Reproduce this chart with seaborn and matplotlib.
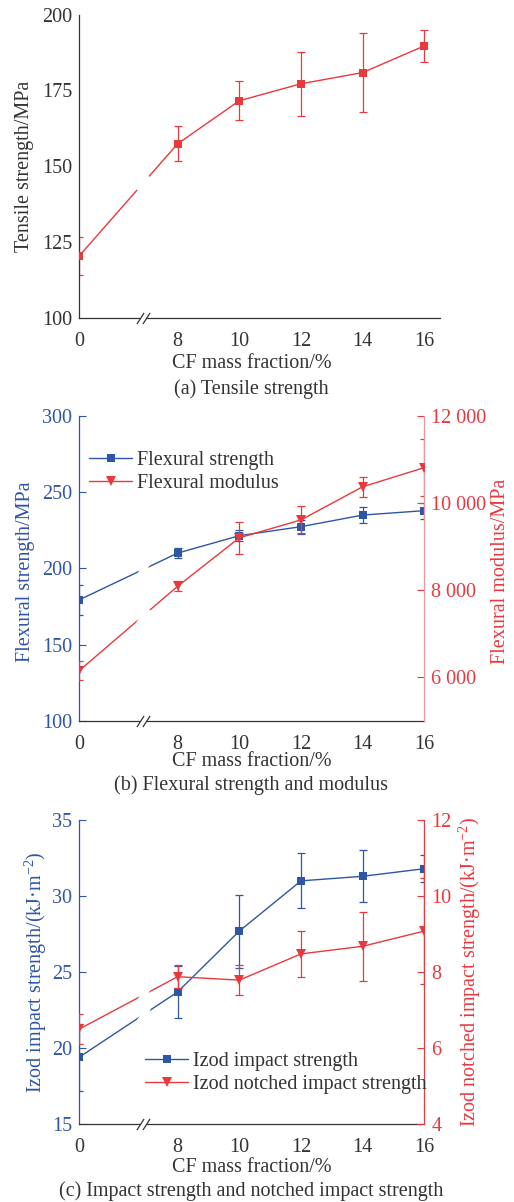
import numpy as np
import matplotlib
matplotlib.use("Agg")
import matplotlib.pyplot as plt
import seaborn as sns
from matplotlib.path import Path
from matplotlib.lines import Line2D
from matplotlib.ticker import FuncFormatter
from matplotlib.transforms import blended_transform_factory

# ---------------- data ----------------
cf = [0, 8, 10, 12, 14, 16]
cf_ticklabels = ["0", "8", "10", "12", "14", "16"]

tensile = [120.3, 157.4, 171.6, 177.2, 180.9, 189.7]
tensile_err = [6.2, 5.8, 6.4, 10.5, 13.0, 5.4]

flex_strength = [179.3, 210.0, 221.4, 227.3, 234.9, 237.8]
flex_strength_err = [10.0, 3.5, 3.7, 4.5, 5.5, 5.3]
flex_modulus = [6150, 8090, 9200, 9610, 10370, 10810]
flex_modulus_err = [220, 110, 370, 310, 225, 650]

izod = [19.4, 23.7, 27.7, 31.0, 31.3, 31.8]
izod_err = [2.2, 1.7, 2.4, 1.8, 1.7, 0.9]
notched = [6.50, 7.88, 7.79, 8.48, 8.68, 9.08]
notched_err = [0.4, 0.3, 0.4, 0.6, 0.9, 1.4]

# ---------------- style ----------------
sns.set_style("white")
plt.rcParams.update({
    "font.family": ["Liberation Serif", "DejaVu Serif"],
    "mathtext.fontset": "custom",
    "mathtext.rm": "Liberation Serif",
    "mathtext.it": "Liberation Serif:italic",
    "font.size": 14.5,
    "axes.linewidth": 0.9,
})

RED = "#E8393D"
RED_LIGHT = "#F09598"
BLUE = "#2F55A6"
DARK = "#333333"
FS = 14.5

# broken x axis: 0..8 is compressed
BREAK_END = 8.0
SQUEEZE = 0.4
SHIFT = BREAK_END * (1 - SQUEEZE)
BREAK_AT = 5.2


def fwd(x):
    x = np.asarray(x, float)
    return np.where(x < BREAK_END, x * SQUEEZE, x - SHIFT)


def inv(p):
    p = np.asarray(p, float)
    return np.where(p < BREAK_END * SQUEEZE, p / SQUEEZE, p + SHIFT)


SLASH = Path([(-0.32, -0.5), (0.32, 0.5)], [Path.MOVETO, Path.LINETO])
GAP = Path([(-0.3, -0.5), (0.3, 0.5)], [Path.MOVETO, Path.LINETO])

fig = plt.figure(figsize=(5.14, 12.02), dpi=100)
W, H = 514.0, 1202.0


def add_axes(left, top, right, bottom):
    return fig.add_axes([left / W, 1 - bottom / H, (right - left) / W, (bottom - top) / H])


def setup_x(ax, xmax):
    ax.set_xscale("function", functions=(fwd, inv))
    ax.set_xlim(0, xmax)
    ax.set_xticks(cf)
    ax.set_xticklabels(cf_ticklabels)
    ax.tick_params(axis="x", direction="in", length=5, width=0.8, pad=10,
                   labelsize=FS, colors=DARK, labelcolor=DARK)
    ax.spines["bottom"].set_color(DARK)
    ax.spines["top"].set_visible(False)
    ax.set_xlabel("CF mass fraction/%", fontsize=FS, color=DARK)
    ax.xaxis.label.set_va("center")
    # axis break symbol
    tr = blended_transform_factory(ax.transData, ax.transAxes)
    ax.plot([BREAK_AT - 0.22, BREAK_AT + 0.22], [0, 0], color="white", lw=2.2,
            transform=tr, clip_on=False, zorder=4, solid_capstyle="butt")
    ax.plot([BREAK_AT - 0.22, BREAK_AT + 0.22], [0, 0], ls="none", marker=SLASH,
            markersize=8, markeredgewidth=0.9, color=DARK, transform=tr,
            clip_on=False, zorder=5)


def series(ax, y, yerr, color, marker, msize, label):
    ax.errorbar(cf, y, yerr=yerr, fmt="none", ecolor=color, elinewidth=0.9,
                capsize=2.6, capthick=0.9, zorder=2)
    sns.lineplot(x=cf, y=y, ax=ax, color=color, marker=marker, markersize=msize,
                 markeredgewidth=0, linewidth=1.0, errorbar=None, zorder=3)
    # gap in the line where the axis is broken
    yb = np.interp(BREAK_AT, cf, y)
    ax.plot([BREAK_AT], [yb], ls="none", marker=GAP, markersize=11,
            markeredgewidth=4.5, color="white", zorder=3.5)
    handle = Line2D([], [], color=color, marker=marker, markersize=msize,
                    markeredgewidth=0, linewidth=1.0, label=label)
    return handle


def set_ylabel(ax, text, color, x, y):
    ax.set_ylabel(text, fontsize=FS, color=color)
    ax.yaxis.label.set_va("center")
    ax.yaxis.label.set_ha("center")
    ax.yaxis.set_label_coords(x, y)


LEGEND_KW = dict(loc="upper left", frameon=False, fontsize=FS, borderpad=0,
                 borderaxespad=0, handlelength=2.15, handletextpad=0.25,
                 labelspacing=0.2, labelcolor=DARK)

# ---------------- (a) tensile strength ----------------
axA = add_axes(79, 14.7, 440, 317.7)
series(axA, tensile, tensile_err, RED, "s", 6, "Tensile strength")
setup_x(axA, 16.51)
axA.spines["right"].set_visible(False)
axA.spines["left"].set_color(DARK)
axA.set_ylim(100, 200)
axA.set_yticks([100, 125, 150, 175, 200])
axA.tick_params(axis="y", direction="in", length=5, width=0.8, pad=5,
                labelsize=FS, colors=DARK, labelcolor=DARK)
set_ylabel(axA, "Tensile strength/MPa", DARK, -0.150, 0.5)
axA.xaxis.set_label_coords(0.478, -0.15)
fig.text(251.5 / W, 1 - 389 / H, "(a) Tensile strength", ha="center", va="center",
         fontsize=FS, color=DARK)

# ---------------- (b) flexural ----------------
axB = add_axes(79, 415.7, 424.3, 721)
axB2 = axB.twinx()
hB1 = series(axB, flex_strength, flex_strength_err, BLUE, "s", 6, "Flexural strength")
hB2 = series(axB2, flex_modulus, flex_modulus_err, RED, "v", 7, "Flexural modulus")
setup_x(axB, 16)
axB2.spines["top"].set_visible(False)
axB.set_ylim(100, 300)
axB.set_yticks([100, 150, 200, 250, 300])
axB2.set_ylim(5000, 12000)
axB2.set_yticks([6000, 8000, 10000, 12000])
axB2.yaxis.set_major_formatter(FuncFormatter(lambda v, p: f"{int(v):,}".replace(",", " ")))
axB.spines["left"].set_color(BLUE)
axB2.spines["left"].set_visible(False)
axB.spines["right"].set_visible(False)
axB2.spines["right"].set_color(RED_LIGHT)
axB2.spines["bottom"].set_visible(False)
axB.tick_params(axis="y", direction="in", length=5, width=0.8, pad=5,
                labelsize=FS, colors=BLUE, labelcolor=BLUE)
axB2.tick_params(axis="y", direction="in", length=5, width=0.8, pad=5,
                 labelsize=FS, colors=RED, labelcolor=RED)
set_ylabel(axB, "Flexural strength/MPa", BLUE, -0.156, 0.488)
set_ylabel(axB2, "Flexural modulus/MPa", RED, 1.222, 0.49)
axB.xaxis.set_label_coords(0.5, -0.133)
axB2.legend(handles=[hB1, hB2], bbox_to_anchor=(0.029, 0.886), **LEGEND_KW)
fig.text(251.5 / W, 1 - 785 / H, "(b) Flexural strength and modulus", ha="center",
         va="center", fontsize=FS, color=DARK)

# ---------------- (c) impact ----------------
axC = add_axes(79, 820, 424.3, 1124.3)
axC2 = axC.twinx()
hC1 = series(axC, izod, izod_err, BLUE, "s", 6, "Izod impact strength")
hC2 = series(axC2, notched, notched_err, RED, "v", 7, "Izod notched impact strength")
setup_x(axC, 16)
axC2.spines["top"].set_visible(False)
axC.set_ylim(15, 35)
axC.set_yticks([15, 20, 25, 30, 35])
axC2.set_ylim(4, 12)
axC2.set_yticks([4, 6, 8, 10, 12])
axC.spines["left"].set_color(BLUE)
axC2.spines["left"].set_visible(False)
axC.spines["right"].set_visible(False)
axC2.spines["right"].set_color(RED)
axC2.spines["bottom"].set_visible(False)
axC.tick_params(axis="y", direction="in", length=5, width=0.8, pad=5,
                labelsize=FS, colors=BLUE, labelcolor=BLUE)
axC2.tick_params(axis="y", direction="in", length=5, width=0.8, pad=5,
                 labelsize=FS, colors=RED, labelcolor=RED)
set_ylabel(axC, "Izod impact strength/(kJ·m$^{-2}$)", BLUE, -0.124, 0.5)
set_ylabel(axC2, "Izod notched impact strength/(kJ·m$^{-2}$)", RED, 1.133, 0.5)
axC.xaxis.set_label_coords(0.5, -0.143)
axC2.legend(handles=[hC1, hC2], bbox_to_anchor=(0.191, 0.238), **LEGEND_KW)
fig.text(251.5 / W, 1 - 1190.7 / H, "(c) Impact strength and notched impact strength",
         ha="center", va="center", fontsize=FS, color=DARK)

fig.savefig("out.png", dpi=100)
